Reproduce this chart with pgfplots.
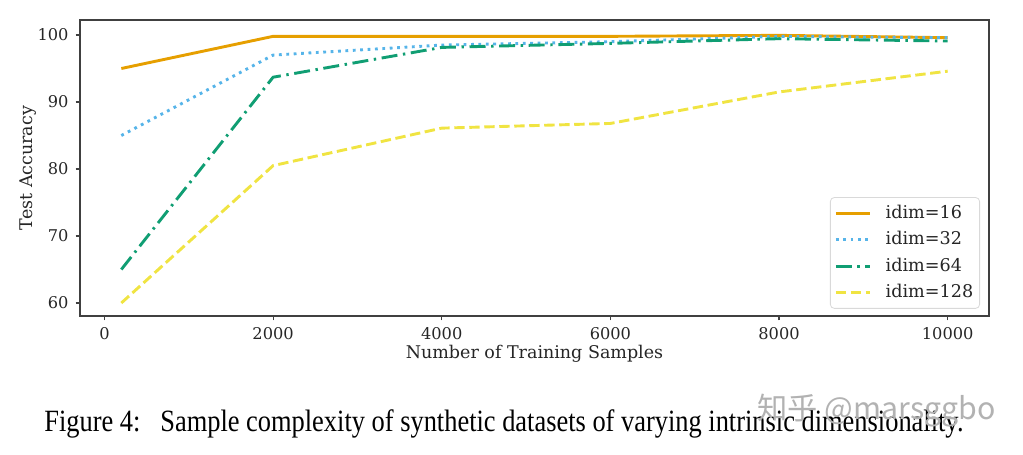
\documentclass[border=0pt]{standalone}
\usepackage{pgfplots}
\pgfplotsset{compat=1.18}
\usepackage{fontspec}
\setmainfont{DejaVu Serif}
\newfontfamily\timesfont{Liberation Serif}
\newfontfamily\cjk{Noto Sans CJK SC}
\definecolor{cOr}{HTML}{E69F00}
\definecolor{cBl}{HTML}{56B4E9}
\definecolor{cGr}{HTML}{109E73}
\definecolor{cYe}{HTML}{F0E442}
\begin{document}
\begin{tikzpicture}
\path[use as bounding box] (0,0) rectangle (511.5pt,227.5pt);
\begin{axis}[
  at={(40pt,69.5pt)}, anchor=south west,
  scale only axis, width=454.5pt, height=148pt,
  xmin=-290, xmax=10490, ymin=58.06, ymax=102.24,
  xtick={0,2000,4000,6000,8000,10000},
  ytick={60,70,80,90,100},
  scaled x ticks=false,
  /pgf/number format/assume math mode=true,
  /pgf/number format/1000 sep={},
  tick align=outside, major tick length=2.2pt,
  xtick pos=bottom, ytick pos=left,
  tick style={color=black!75, line width=0.6pt},
  axis line style={black!75, line width=0.6pt},
  ticklabel style={font=\fontsize{8.1}{10}\selectfont, text=black!85},
  label style={font=\fontsize{8.75}{10}\selectfont, text=black!85},
  xlabel={Number of Training Samples},
  ylabel={Test Accuracy},
  xlabel style={at={(axis description cs:0.5,-0.128)}, anchor=center},
  ylabel style={at={(axis description cs:-0.0572,0.5)}, anchor=center, rotate=0},
  legend style={at={(1,0)}, anchor=south east, xshift=-4.5pt, yshift=3.6pt,
    draw=black!15, rounded corners=2pt, fill=white, fill opacity=0.8, text opacity=1,
    font=\fontsize{8.8}{10}\selectfont, row sep=2.7pt, inner xsep=2pt, inner ysep=2.5pt,
    nodes={inner sep=1.2pt, text=black!85}},
  legend cell align=left,
  legend image code/.code={\draw[#1, line width=1.45pt] (0pt,0pt) -- (17pt,0pt); \path (23pt,0pt);},
  every axis plot/.append style={line width=1.45pt},
]
\addplot[cOr, solid] coordinates {(200,95.0) (2000,99.8) (4000,99.8) (6000,99.8) (8000,99.95) (10000,99.6)};
\addlegendentry{idim=16}
\addplot[cBl, dash pattern=on 1.4pt off 2.3pt] coordinates {(200,85.0) (2000,97.0) (4000,98.5) (6000,99.0) (8000,99.8) (10000,99.6)};
\addlegendentry{idim=32}
\addplot[cGr, dash pattern=on 8pt off 2.8pt on 1.2pt off 2.8pt] coordinates {(200,65.0) (2000,93.7) (4000,98.15) (6000,98.75) (8000,99.45) (10000,99.1)};
\addlegendentry{idim=64}
\addplot[cYe, dash pattern=on 5.2pt off 2.3pt] coordinates {(200,60.0) (2000,80.5) (4000,86.1) (6000,86.8) (8000,91.5) (10000,94.6)};
\addlegendentry{idim=128}
\end{axis}
\node[anchor=base west, inner sep=0pt] at (22pt,11.5pt)
  {\resizebox{459.5pt}{10.9pt}{\timesfont Figure 4:\ \ \ Sample complexity of synthetic datasets of varying intrinsic dimensionality.}};
\node[anchor=base west, inner sep=0pt, text=black!30] at (378.5pt,17.5pt)
  {\resizebox{119pt}{!}{\cjk\fontsize{14}{16}\selectfont 知乎 @marsggbo}};
\end{tikzpicture}
\end{document}
